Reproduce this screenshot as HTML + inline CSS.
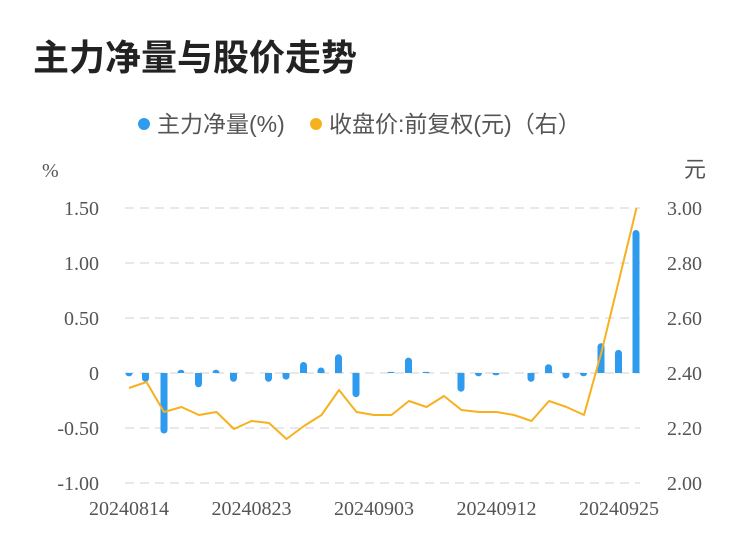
<!DOCTYPE html>
<html><head><meta charset="utf-8"><style>
body{margin:0;background:#fff;}
svg{display:block;}
</style></head><body>
<svg width="750" height="558" xmlns="http://www.w3.org/2000/svg">
<defs>
<clipPath id="top"><rect x="0" y="0" width="750" height="373"/></clipPath>
<clipPath id="bot"><rect x="0" y="373" width="750" height="185"/></clipPath>
</defs>
<text x="33" y="70" font-family="Liberation Sans, Noto Sans CJK SC, sans-serif" font-size="36" font-weight="bold" fill="#222">主力净量与股价走势</text>
<circle cx="144" cy="124" r="6" fill="#2E9BEE"/>
<text x="157" y="132" font-family="Liberation Sans, Noto Sans CJK SC, sans-serif" font-size="23" fill="#555">主力净量(%)</text>
<circle cx="316" cy="124" r="6" fill="#F7B11E"/>
<text x="329" y="132" font-family="Liberation Sans, Noto Sans CJK SC, sans-serif" font-size="23" fill="#555">收盘价:前复权(元)（右）</text>
<g font-family="Liberation Serif, Noto Serif CJK SC, serif" font-size="20" fill="#555">
<text x="42" y="177">%</text>
<text x="684" y="177" font-family="Liberation Sans, Noto Sans CJK SC, sans-serif" font-size="22">元</text>
<g text-anchor="end">
<text x="99" y="215">1.50</text><text x="99" y="270">1.00</text><text x="99" y="325">0.50</text>
<text x="99" y="380">0</text><text x="99" y="435">-0.50</text><text x="99" y="490">-1.00</text>
</g>
<text x="667" y="215">3.00</text><text x="667" y="270">2.80</text><text x="667" y="325">2.60</text>
<text x="667" y="380">2.40</text><text x="667" y="435">2.20</text><text x="667" y="490">2.00</text>
<g text-anchor="middle">
<text x="129" y="515">20240814</text><text x="251.5" y="515">20240823</text><text x="374" y="515">20240903</text><text x="496.5" y="515">20240912</text><text x="619" y="515">20240925</text>
</g>
</g>
<g stroke="#e8e8e8" stroke-width="2" stroke-dasharray="9,6">
<line x1="125" y1="208" x2="640" y2="208"/><line x1="125" y1="263" x2="640" y2="263"/><line x1="125" y1="318" x2="640" y2="318"/>
<line x1="125" y1="373" x2="640" y2="373"/><line x1="125" y1="428" x2="640" y2="428"/><line x1="125" y1="483" x2="640" y2="483"/>
</g>
<g fill="#2E9BEE" clip-path="url(#bot)">
<rect x="125.5" y="369.5" width="7" height="6.8" rx="3.3"/>
<rect x="142" y="369.5" width="7" height="12.3" rx="3.5"/>
<rect x="160.5" y="369.5" width="7" height="64" rx="3.5"/>
<rect x="195" y="369.5" width="7" height="17.8" rx="3.5"/>
<rect x="230" y="369.5" width="7" height="12.3" rx="3.5"/>
<rect x="265" y="369.5" width="7" height="12.3" rx="3.5"/>
<rect x="282.5" y="369.5" width="7" height="10.1" rx="3.5"/>
<rect x="352.5" y="369.5" width="7" height="27.7" rx="3.5"/>
<rect x="457.5" y="369.5" width="7" height="22.2" rx="3.5"/>
<rect x="475" y="369.5" width="7" height="6.8" rx="3.3"/>
<rect x="492.5" y="369.5" width="7" height="5.7" rx="2.2"/>
<rect x="527.5" y="369.5" width="7" height="12.3" rx="3.5"/>
<rect x="562.5" y="369.5" width="7" height="9" rx="3.5"/>
<rect x="580" y="369.5" width="7" height="6.8" rx="3.3"/>
</g>
<g fill="#2E9BEE" clip-path="url(#top)">
<rect x="177.5" y="369.7" width="7" height="6.8" rx="3.3"/>
<rect x="212.5" y="369.7" width="7" height="6.8" rx="3.3"/>
<rect x="300" y="362" width="7" height="14.5" rx="3.5"/>
<rect x="317.5" y="367.5" width="7" height="9" rx="3.5"/>
<rect x="335" y="354.3" width="7" height="22.2" rx="3.5"/>
<rect x="387.5" y="371.9" width="7" height="4" rx="1.1"/>
<rect x="405" y="357.6" width="7" height="18.9" rx="3.5"/>
<rect x="422.5" y="371.9" width="7" height="4" rx="1.1"/>
<rect x="545" y="364.2" width="7" height="12.3" rx="3.5"/>
<rect x="597.5" y="343.3" width="7" height="33.2" rx="3.5"/>
<rect x="615" y="349.9" width="7" height="26.6" rx="3.5"/>
<rect x="632.5" y="230" width="7" height="146.5" rx="3.5"/>
</g>
<polyline fill="none" stroke="#F7B11E" stroke-width="2" stroke-linejoin="round" points="129,388 146.5,382 164,412 181.5,407 199,415 216.5,412 234,429 251.5,421 269,423 286.5,439 304,426 321.5,415 339,390 356.5,412 374,415 391.5,415 409,401 426.5,407 444,396 461.5,410 479,412 496.5,412 514,415 531.5,421 549,401 566.5,407 584,415 601.5,352 619,280 636.5,208"/>
</svg>
</body></html>
